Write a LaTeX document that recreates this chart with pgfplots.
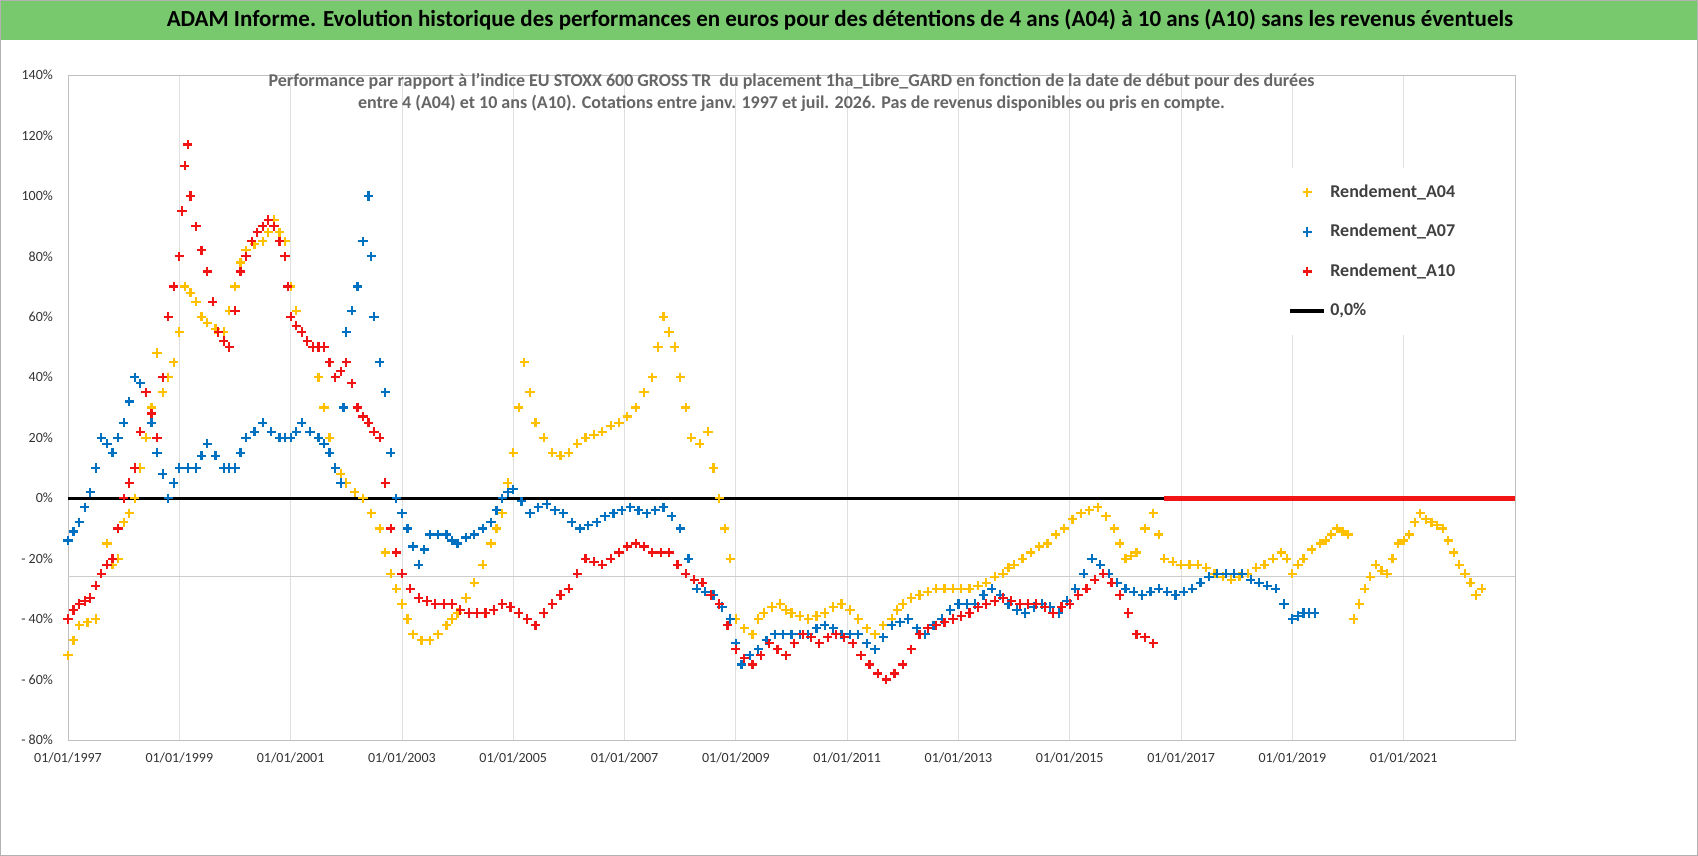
\documentclass[border=0pt]{standalone}
\usepackage{pgfplots}
\pgfplotsset{compat=1.18}
\usepackage{fontspec}
\setmainfont{Carlito}
\definecolor{gold}{RGB}{255,192,0}
\definecolor{blu}{RGB}{0,112,192}
\definecolor{rd}{RGB}{240,20,20}
\definecolor{ban}{RGB}{120,200,110}
\begin{document}
\begin{tikzpicture}[x=1pt,y=1pt]
\useasboundingbox (0,0) rectangle (849,428);
\fill[white] (0,0) rectangle (849,428);
\fill[ban] (0,408) rectangle (849,428);
\draw[gray!60] (0.3,0.3) rectangle (848.7,427.7);
\node[font=\bfseries\fontsize{11.5}{13}\selectfont] at (420,418) {ADAM Informe. Evolution historique des performances en euros pour des détentions de 4 ans (A04) à 10 ans (A10) sans les revenus éventuels};
\begin{axis}[at={(34pt,58pt)},anchor=south west,scale only axis,width=723.5pt,height=332.5pt,
 xmin=1997,xmax=2023,ymin=-80,ymax=140,
 xtick={1997,1999,...,2021},
 xticklabels={01/01/1997,01/01/1999,01/01/2001,01/01/2003,01/01/2005,01/01/2007,01/01/2009,01/01/2011,01/01/2013,01/01/2015,01/01/2017,01/01/2019,01/01/2021},
 ytick={-80,-60,...,140},
 yticklabels={- 80\%,- 60\%,- 40\%,- 20\%,0\%,20\%,40\%,60\%,80\%,100\%,120\%,140\%},
 ticklabel style={font=\fontsize{7}{8}\selectfont,text=black!80},
 xticklabel style={yshift=-3pt}, yticklabel style={xshift=-4pt},
 xmajorgrids, grid style={gray!25}, axis line style={gray!50}, tick style={draw=none},
 legend style={at={(0.97,0.86)},anchor=north east,draw=none,fill=white,font=\bfseries\fontsize{9}{11}\selectfont,text=black!75,row sep=8pt,inner sep=6pt},
 legend cell align=left,
 every axis plot/.append style={mark options={line width=1.1pt}},
 title style={font=\bfseries\fontsize{9}{11}\selectfont,text=black!60,align=center,yshift=-28pt},
 title={Performance par rapport à l'indice EU STOXX 600 GROSS TR \ du placement 1ha\_Libre\_GARD en fonction de la date de début pour des durées\\entre 4 (A04) et 10 ans (A10). Cotations entre janv. 1997 et juil. 2026. Pas de revenus disponibles ou pris en compte.}
]
\draw[gray!40] (axis cs:1997,-26) -- (axis cs:2023,-26);
\addplot[only marks,mark=+,mark size=2.3pt,gold] coordinates {
(1997.0,-52)(1997.1,-47)(1997.2,-42)(1997.35,-41)(1997.5,-40)(1997.6,-25)(1997.7,-15)(1997.8,-22)(1997.9,-20)(1998.0,-8)(1998.1,-5)(1998.2,0)(1998.3,10)(1998.4,20)(1998.5,30)(1998.6,48)(1998.7,35)(1998.8,40)(1998.9,45)(1999.0,55)(1999.1,70)(1999.2,68)(1999.3,65)(1999.4,60)(1999.5,58)(1999.65,56)(1999.8,55)(1999.9,62)(2000.0,70)(2000.1,78)(2000.2,82)(2000.35,84)(2000.5,85)(2000.6,88)(2000.7,92)(2000.8,88)(2000.9,85)(2001.0,70)(2001.1,62)(2001.2,55)(2001.3,52)(2001.4,50)(2001.5,40)(2001.6,30)(2001.7,20)(2001.8,10)(2001.9,8)(2002.0,5)(2002.15,2)(2002.3,0)(2002.45,-5)(2002.6,-10)(2002.7,-18)(2002.8,-25)(2002.9,-30)(2003.0,-35)(2003.1,-40)(2003.2,-45)(2003.35,-47)(2003.5,-47)(2003.65,-45)(2003.8,-42)(2003.9,-40)(2004.0,-38)(2004.15,-33)(2004.3,-28)(2004.45,-22)(2004.6,-15)(2004.7,-10)(2004.8,-5)(2004.9,5)(2005.0,15)(2005.1,30)(2005.2,45)(2005.3,35)(2005.4,25)(2005.55,20)(2005.7,15)(2005.85,14)(2006.0,15)(2006.15,18)(2006.3,20)(2006.45,21)(2006.6,22)(2006.75,24)(2006.9,25)(2007.05,27)(2007.2,30)(2007.35,35)(2007.5,40)(2007.6,50)(2007.7,60)(2007.8,55)(2007.9,50)(2008.0,40)(2008.1,30)(2008.2,20)(2008.35,18)(2008.5,22)(2008.6,10)(2008.7,0)(2008.8,-10)(2008.9,-20)(2009.0,-40)(2009.15,-43)(2009.3,-45)(2009.4,-40)(2009.5,-38)(2009.65,-36)(2009.8,-35)(2009.9,-37)(2010.0,-38)(2010.15,-39)(2010.3,-40)(2010.45,-39)(2010.6,-38)(2010.75,-36)(2010.9,-35)(2011.05,-37)(2011.2,-40)(2011.35,-43)(2011.5,-45)(2011.65,-42)(2011.8,-40)(2011.9,-37)(2012.0,-35)(2012.15,-33)(2012.3,-32)(2012.45,-31)(2012.6,-30)(2012.75,-30)(2012.9,-30)(2013.05,-30)(2013.2,-30)(2013.35,-29)(2013.5,-28)(2013.65,-26)(2013.8,-25)(2013.9,-23)(2014.0,-22)(2014.15,-20)(2014.3,-18)(2014.45,-16)(2014.6,-15)(2014.75,-12)(2014.9,-10)(2015.05,-7)(2015.2,-5)(2015.35,-4)(2015.5,-3)(2015.65,-6)(2015.8,-10)(2015.9,-15)(2016.0,-20)(2016.1,-19)(2016.2,-18)(2016.35,-10)(2016.5,-5)(2016.6,-12)(2016.7,-20)(2016.85,-21)(2017.0,-22)(2017.15,-22)(2017.3,-22)(2017.45,-23)(2017.6,-25)(2017.75,-26)(2017.9,-27)(2018.05,-26)(2018.2,-25)(2018.35,-23)(2018.5,-22)(2018.65,-20)(2018.8,-18)(2018.9,-20)(2019.0,-25)(2019.1,-22)(2019.2,-20)(2019.35,-17)(2019.5,-15)(2019.6,-14)(2019.7,-12)(2019.8,-10)(2019.9,-11)(2020.0,-12)
(2020.1,-40)(2020.2,-35)(2020.3,-30)(2020.4,-26)(2020.5,-22)(2020.6,-24)(2020.7,-25)(2020.8,-20)(2020.9,-15)(2021.0,-14)(2021.1,-12)(2021.2,-8)(2021.3,-5)(2021.4,-7)(2021.5,-8)(2021.6,-9)(2021.7,-10)(2021.8,-14)(2021.9,-18)(2022.0,-22)(2022.1,-25)(2022.2,-28)(2022.3,-32)(2022.4,-30)};
\addlegendentry{Rendement\_A04}
\addplot[only marks,mark=+,mark size=2.3pt,blu] coordinates {
(1997.0,-14)(1997.1,-11)(1997.2,-8)(1997.3,-3)(1997.4,2)(1997.5,10)(1997.6,20)(1997.7,18)(1997.8,15)(1997.9,20)(1998.0,25)(1998.1,32)(1998.2,40)(1998.3,38)(1998.4,35)(1998.5,25)(1998.6,15)(1998.7,8)(1998.8,0)(1998.9,5)(1999.0,10)(1999.15,10)(1999.3,10)(1999.4,14)(1999.5,18)(1999.65,14)(1999.8,10)(1999.9,10)(2000.0,10)(2000.1,15)(2000.2,20)(2000.35,22)(2000.5,25)(2000.65,22)(2000.8,20)(2000.9,20)(2001.0,20)(2001.1,22)(2001.2,25)(2001.35,22)(2001.5,20)(2001.6,18)(2001.7,15)(2001.8,10)(2001.9,5)(2001.95,30)(2002.0,55)(2002.1,62)(2002.2,70)(2002.3,85)(2002.4,100)(2002.45,80)(2002.5,60)(2002.6,45)(2002.7,35)(2002.8,15)(2002.9,0)(2003.0,-5)(2003.1,-10)(2003.2,-16)(2003.3,-22)(2003.4,-17)(2003.5,-12)(2003.65,-12)(2003.8,-12)(2003.9,-14)(2004.0,-15)(2004.15,-13)(2004.3,-12)(2004.45,-10)(2004.6,-8)(2004.7,-4)(2004.8,0)(2004.9,2)(2005.0,3)(2005.15,-1)(2005.3,-5)(2005.45,-3)(2005.6,-2)(2005.75,-4)(2005.9,-5)(2006.05,-8)(2006.2,-10)(2006.35,-9)(2006.5,-8)(2006.65,-6)(2006.8,-5)(2006.95,-4)(2007.1,-3)(2007.25,-4)(2007.4,-5)(2007.55,-4)(2007.7,-3)(2007.85,-6)(2008.0,-10)(2008.15,-20)(2008.3,-30)(2008.45,-31)(2008.6,-32)(2008.75,-36)(2008.9,-40)(2009.0,-48)(2009.1,-55)(2009.25,-52)(2009.4,-50)(2009.55,-47)(2009.7,-45)(2009.85,-45)(2010.0,-45)(2010.15,-45)(2010.3,-45)(2010.45,-43)(2010.6,-42)(2010.75,-43)(2010.9,-45)(2011.05,-45)(2011.2,-45)(2011.35,-48)(2011.5,-50)(2011.65,-46)(2011.8,-42)(2011.95,-41)(2012.1,-40)(2012.25,-43)(2012.4,-45)(2012.55,-42)(2012.7,-40)(2012.85,-37)(2013.0,-35)(2013.15,-35)(2013.3,-35)(2013.45,-32)(2013.6,-30)(2013.75,-32)(2013.9,-35)(2014.05,-37)(2014.2,-38)(2014.35,-36)(2014.5,-35)(2014.65,-36)(2014.8,-38)(2014.95,-34)(2015.1,-30)(2015.25,-25)(2015.4,-20)(2015.55,-22)(2015.7,-25)(2015.85,-28)(2016.0,-30)(2016.15,-31)(2016.3,-32)(2016.45,-31)(2016.6,-30)(2016.75,-31)(2016.9,-32)(2017.05,-31)(2017.2,-30)(2017.35,-28)(2017.5,-26)(2017.65,-25)(2017.8,-25)(2017.95,-25)(2018.1,-25)(2018.25,-27)(2018.4,-28)(2018.55,-29)(2018.7,-30)(2018.85,-35)(2019.0,-40)(2019.1,-39)(2019.2,-38)(2019.3,-38)(2019.4,-38)};
\addlegendentry{Rendement\_A07}
\addplot[only marks,mark=+,mark size=2.3pt,rd] coordinates {
(1997.0,-40)(1997.1,-37)(1997.2,-35)(1997.3,-34)(1997.4,-33)(1997.5,-29)(1997.6,-25)(1997.7,-22)(1997.8,-20)(1997.9,-10)(1998.0,0)(1998.1,5)(1998.2,10)(1998.3,22)(1998.4,35)(1998.5,28)(1998.6,20)(1998.7,40)(1998.8,60)(1998.9,70)(1999.0,80)(1999.05,95)(1999.1,110)(1999.15,117)(1999.2,100)(1999.3,90)(1999.4,82)(1999.5,75)(1999.6,65)(1999.7,55)(1999.8,52)(1999.9,50)(2000.0,62)(2000.1,75)(2000.2,80)(2000.3,85)(2000.4,88)(2000.5,90)(2000.6,92)(2000.7,90)(2000.8,85)(2000.9,80)(2000.95,70)(2001.0,60)(2001.1,57)(2001.2,55)(2001.3,52)(2001.4,50)(2001.5,50)(2001.6,50)(2001.7,45)(2001.8,40)(2001.9,42)(2002.0,45)(2002.1,38)(2002.2,30)(2002.3,27)(2002.4,25)(2002.5,22)(2002.6,20)(2002.7,5)(2002.8,-10)(2002.9,-18)(2003.0,-25)(2003.15,-30)(2003.3,-33)(2003.45,-34)(2003.6,-35)(2003.75,-35)(2003.9,-35)(2004.05,-37)(2004.2,-38)(2004.35,-38)(2004.5,-38)(2004.65,-37)(2004.8,-35)(2004.95,-36)(2005.1,-38)(2005.25,-40)(2005.4,-42)(2005.55,-38)(2005.7,-35)(2005.85,-32)(2006.0,-30)(2006.15,-25)(2006.3,-20)(2006.45,-21)(2006.6,-22)(2006.75,-20)(2006.9,-18)(2007.05,-16)(2007.2,-15)(2007.35,-16)(2007.5,-18)(2007.65,-18)(2007.8,-18)(2007.95,-22)(2008.1,-25)(2008.25,-27)(2008.4,-28)(2008.55,-32)(2008.7,-35)(2008.85,-42)(2009.0,-50)(2009.15,-53)(2009.3,-55)(2009.45,-52)(2009.6,-48)(2009.75,-50)(2009.9,-52)(2010.05,-48)(2010.2,-45)(2010.35,-46)(2010.5,-48)(2010.65,-46)(2010.8,-45)(2010.95,-46)(2011.1,-48)(2011.25,-52)(2011.4,-55)(2011.55,-58)(2011.7,-60)(2011.85,-58)(2012.0,-55)(2012.15,-50)(2012.3,-45)(2012.45,-43)(2012.6,-42)(2012.75,-41)(2012.9,-40)(2013.05,-39)(2013.2,-38)(2013.35,-36)(2013.5,-35)(2013.65,-34)(2013.8,-33)(2013.95,-34)(2014.1,-35)(2014.25,-35)(2014.4,-35)(2014.55,-36)(2014.7,-38)(2014.85,-36)(2015.0,-35)(2015.15,-32)(2015.3,-30)(2015.45,-27)(2015.6,-25)(2015.75,-28)(2015.9,-32)(2016.05,-38)(2016.2,-45)(2016.35,-46)(2016.5,-48)};
\addlegendentry{Rendement\_A10}
\addplot[black,line width=1.6pt,forget plot] coordinates {(1997,0)(2016.7,0)};
\addplot[rd,line width=2.6pt,forget plot] coordinates {(2016.7,0)(2023,0)};
\addlegendimage{black,line width=2pt}
\addlegendentry{0,0\%}
\end{axis}
\end{tikzpicture}
\end{document}
